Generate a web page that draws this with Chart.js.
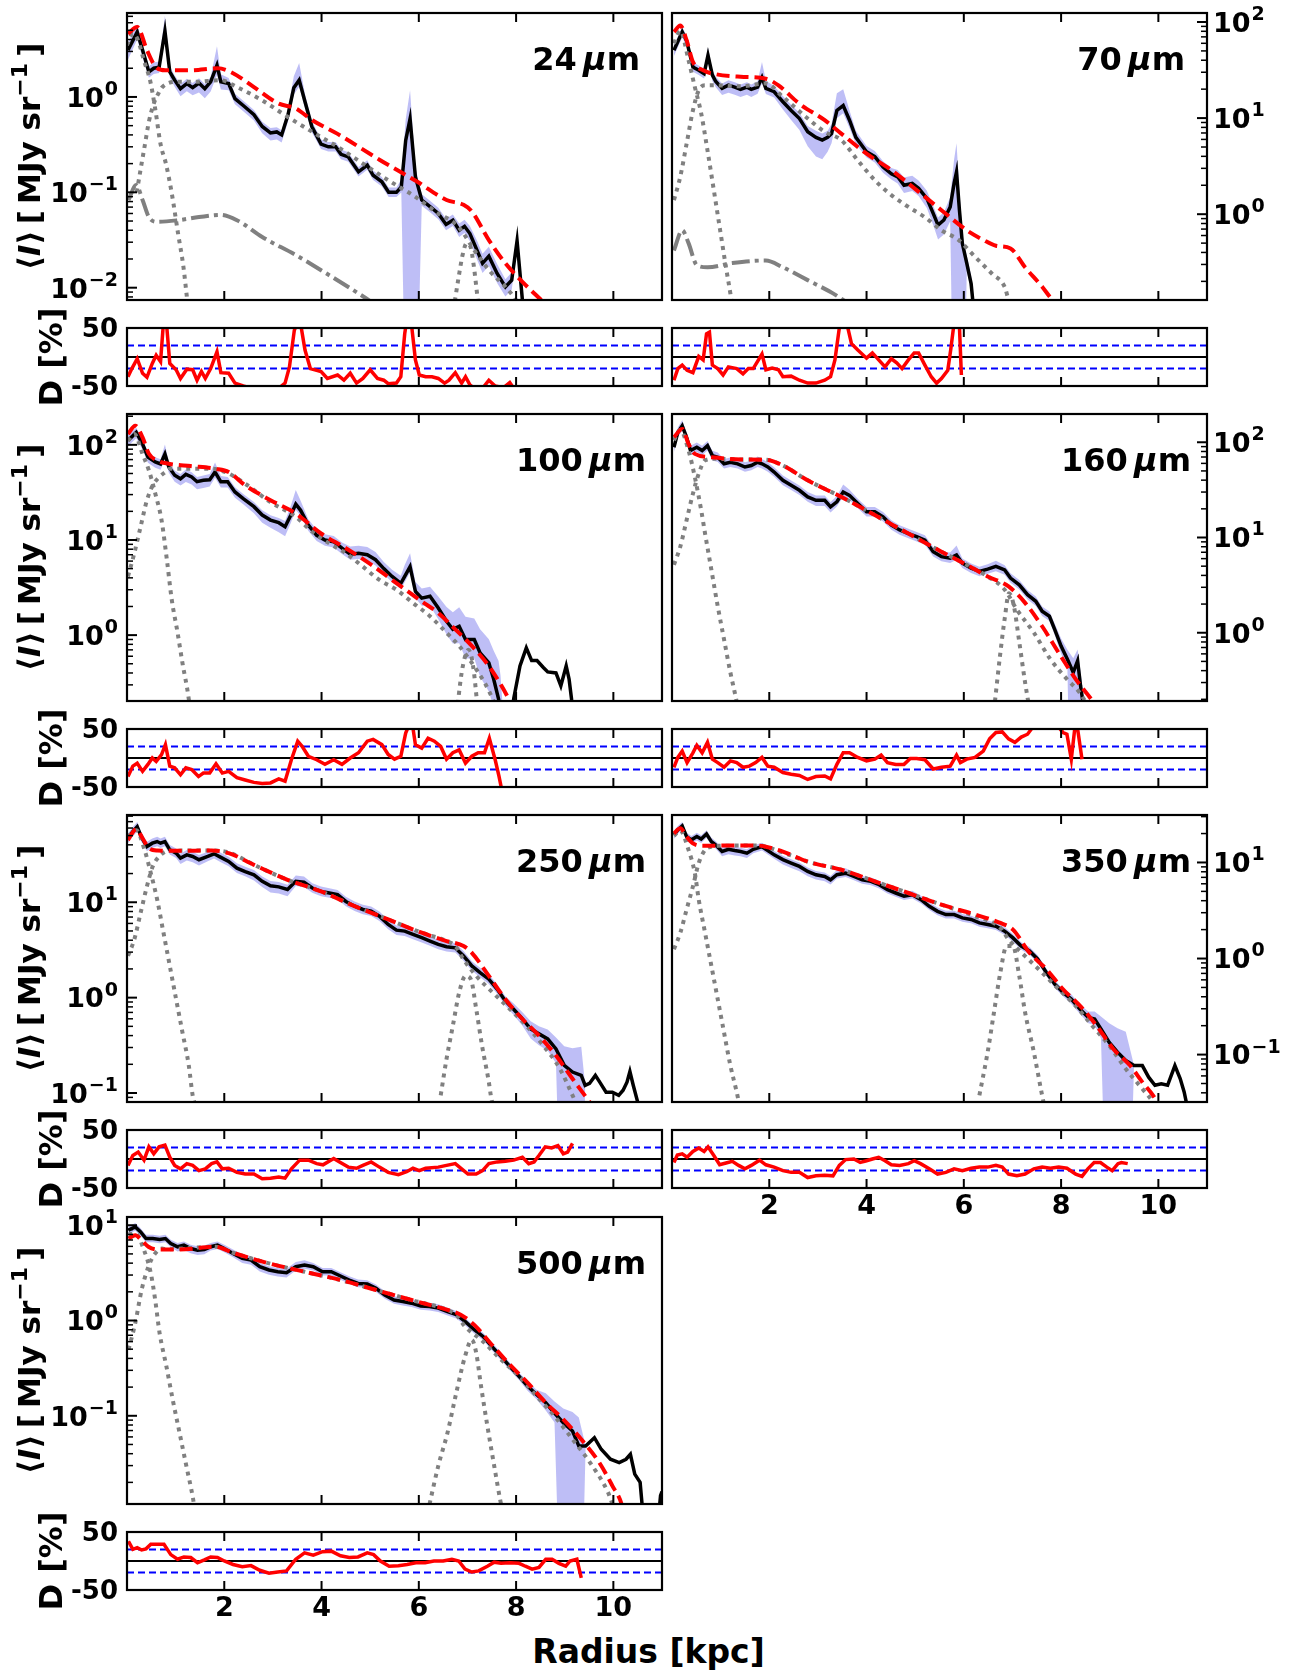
<!DOCTYPE html>
<html lang="en">
<head>
<meta charset="UTF-8">
<title>Radial profiles</title>
<script src="https://cdn.jsdelivr.net/npm/chart.js@4.4.1/dist/chart.umd.min.js"></script>
<style>
  body { margin: 0; background: #fff; }
  #fig { position: relative; width: 1297px; height: 1673px; overflow: hidden; }
  #fig canvas { position: absolute; }
  #xlabel {
    position: absolute; left: 0; top: 1635px; width: 1297px; text-align: center;
    font: bold 33px 'DejaVu Sans', sans-serif; line-height: 33px; color: #000;
  }
</style>
</head>
<body>
<div id="fig"><div id="xlabel">Radius [kpc]</div></div>
<script>
// ---- data ----
// observed profiles: [radius kpc, <I> MJy/sr, band below (dex), band above (dex)]
const obs24 = [[0.02,3.1,.10,.08],[0.21,4.8,.08,.08],[0.32,3.1,.08,.06],[0.45,1.83,.06,.06],[0.55,2.0,.06,.06],[0.66,2.05,.06,.06],[0.78,4.9,.08,.16],[0.88,1.83,.06,.06],[0.98,1.5,.07,.05],[1.10,1.22,.08,.05],[1.23,1.38,.08,.05],[1.35,1.25,.08,.05],[1.48,1.4,.1,.05],[1.60,1.22,.1,.05],[1.72,1.44,.1,.05],[1.85,2.15,.1,.2],[1.93,1.44,.08,.08],[2.09,1.38,.07,.06],[2.22,0.96,.06,.05],[2.42,0.79,.06,.05],[2.61,0.65,.06,.05],[2.78,0.49,.07,.05],[2.95,0.42,.08,.05],[3.08,0.43,.08,.05],[3.18,0.40,.08,.05],[3.31,0.65,.07,.06],[3.43,1.25,.07,.12],[3.54,1.5,.07,.18],[3.66,0.89,.07,.08],[3.80,0.49,.06,.06],[3.99,0.32,.05,.05],[4.14,0.30,.05,.05],[4.29,0.30,.05,.05],[4.40,0.25,.05,.05],[4.55,0.235,.05,.05],[4.76,0.164,.05,.05],[4.94,0.193,.05,.05],[5.06,0.151,.05,.05],[5.24,0.129,.05,.05],[5.38,0.10,.05,.05],[5.54,0.10,.05,.05],[5.64,0.114,.06,.08],[5.73,0.35,3,.22],[5.82,0.59,3,.3],[5.93,0.145,3,.1],[6.06,0.083,.06,.06],[6.23,0.071,.06,.06],[6.40,0.060,.06,.06],[6.56,0.046,.06,.06],[6.70,0.051,.06,.06],[6.83,0.040,.07,.07],[6.94,0.044,.07,.07],[7.05,0.037,.08,.08],[7.20,0.0245,.1,.1],[7.31,0.018,.1,.1],[7.44,0.0214,.1,.1],[7.61,0.0141,.1,.1],[7.78,0.0102,.1,.08],[7.91,0.012,.1,.08],[8.02,0.031,.1,.08],[8.13,0.0074,.1,.08],[8.16,0.001,0,0]];
const obs70 = [[0.04,50.7,.06,.05],[0.21,79,.06,.05],[0.30,64,.06,.05],[0.43,34,.05,.05],[0.55,31.5,.05,.05],[0.66,29,.05,.05],[0.74,45,.06,.08],[0.83,28,.06,.05],[0.90,24,.06,.05],[1.03,20.4,.07,.05],[1.16,22,.08,.05],[1.29,21,.08,.05],[1.41,19.9,.08,.05],[1.54,21,.08,.05],[1.63,19.9,.08,.05],[1.76,21,.07,.06],[1.85,26.5,.06,.16],[1.93,20.4,.06,.08],[2.10,18.8,.06,.06],[2.28,14.8,.08,.06],[2.45,12,.1,.06],[2.62,9.9,.12,.06],[2.79,7.2,.15,.06],[2.96,6.3,.2,.07],[3.09,5.9,.2,.07],[3.2,6.3,.15,.07],[3.28,6.9,.1,.1],[3.39,12,.08,.18],[3.52,13.5,.08,.17],[3.65,9.5,.08,.1],[3.78,6.3,.07,.07],[4.0,4.47,.06,.06],[4.17,3.97,.06,.06],[4.34,3.1,.06,.06],[4.51,2.63,.06,.06],[4.64,2.45,.07,.07],[4.77,2.0,.08,.08],[4.94,2.09,.08,.08],[5.07,1.86,.08,.08],[5.24,1.46,.1,.08],[5.37,1.02,.12,.08],[5.47,0.77,.15,.08],[5.59,0.87,.15,.08],[5.72,1.19,.15,.1],[5.80,2.09,3,.25],[5.85,2.75,3,.3],[5.91,1.1,3,.2],[5.97,0.495,3,.1],[6.06,0.31,.08,.08],[6.15,0.19,.08,.08],[6.19,0.118,.08,.08],[6.22,0.08,.08,.08]];
const obs100 = [[0.02,111,.06,.06],[0.19,135,.06,.05],[0.32,102,.06,.05],[0.43,74.5,.06,.05],[0.58,66,.06,.05],[0.69,63,.06,.05],[0.78,80,.06,.1],[0.86,58.5,.06,.05],[0.98,48,.07,.05],[1.10,44,.07,.05],[1.21,49,.08,.05],[1.33,46,.08,.05],[1.44,41,.08,.05],[1.57,42.4,.08,.05],[1.70,43,.07,.06],[1.81,51.8,.06,.1],[1.93,40.9,.06,.06],[2.07,40.9,.06,.05],[2.22,32,.06,.05],[2.39,27.2,.06,.05],[2.61,22.4,.07,.05],[2.78,18.3,.08,.05],[2.95,16.2,.08,.05],[3.12,15.2,.1,.05],[3.25,13.8,.1,.06],[3.37,18.3,.08,.1],[3.47,23.8,.06,.15],[3.57,20.5,.06,.1],[3.73,14.3,.06,.06],[3.90,11.2,.06,.06],[4.07,10,.06,.06],[4.25,9.6,.06,.06],[4.42,8.2,.06,.06],[4.59,7.1,.06,.08],[4.76,7.25,.06,.08],[4.94,7.0,.06,.08],[5.11,6.2,.06,.08],[5.28,5.0,.06,.07],[5.45,4.14,.06,.07],[5.63,3.5,.06,.08],[5.71,4.14,.06,.12],[5.82,5.25,.06,.14],[5.93,2.88,.07,.1],[6.06,2.45,.08,.1],[6.23,2.56,.1,.1],[6.40,1.93,.12,.12],[6.57,1.40,.14,.15],[6.70,1.15,.15,.18],[6.83,1.24,.18,.2],[6.96,0.90,.2,.24],[7.14,0.90,.2,.22],[7.26,0.65,.25,.25],[7.44,0.51,.3,.25],[7.54,0.344,.3,.3],[7.64,0.213,.3,.4],[7.68,0.15,.3,.4],[7.8,0.05,0,0],[7.92,0.15,0,0],[7.95,0.213,0,0],[8.08,0.474,0,0],[8.21,0.735,0,0],[8.32,0.54,0,0],[8.43,0.54,0,0],[8.56,0.457,0,0],[8.65,0.41,0,0],[8.82,0.40,0,0],[8.92,0.293,0,0],[9.03,0.474,0,0],[9.09,0.344,0,0],[9.14,0.213,0,0],[9.17,0.12,0,0]];
const obs160 = [[0.04,88.7,.05,.05],[0.12,127,.05,.05],[0.21,149,.05,.06],[0.30,113,.05,.05],[0.38,82,.05,.05],[0.51,88.7,.05,.05],[0.62,82,.05,.05],[0.73,92,.05,.05],[0.83,72.4,.05,.05],[0.94,69.7,.05,.05],[1.07,59.4,.05,.05],[1.20,61.7,.05,.05],[1.35,59.4,.05,.05],[1.50,55,.05,.05],[1.63,57,.05,.05],[1.76,61.7,.05,.06],[1.85,59.4,.05,.05],[1.97,55,.05,.05],[2.10,48.7,.05,.05],[2.28,39.8,.05,.05],[2.45,35.3,.05,.05],[2.62,31.3,.05,.05],[2.79,26.7,.05,.05],[2.96,24.6,.06,.05],[3.14,24.6,.06,.05],[3.26,21,.06,.05],[3.39,23.7,.05,.06],[3.52,30,.05,.08],[3.65,27.7,.05,.06],[3.82,22.7,.05,.05],[4.0,18.6,.05,.05],[4.17,18.6,.05,.05],[4.34,16.5,.05,.05],[4.51,13.5,.05,.05],[4.68,12,.05,.05],[4.86,11,.05,.05],[5.03,10.2,.05,.05],[5.20,9.4,.05,.05],[5.37,7.1,.05,.05],[5.54,6.3,.05,.05],[5.72,6.07,.05,.06],[5.85,6.56,.05,.1],[5.97,5.37,.05,.05],[6.15,4.76,.05,.05],[6.32,4.4,.05,.05],[6.49,4.66,.05,.05],[6.66,4.97,.05,.06],[6.84,4.57,.05,.05],[6.96,3.75,.05,.05],[7.14,3.19,.05,.05],[7.31,2.51,.05,.05],[7.48,2.14,.05,.05],[7.61,1.68,.05,.05],[7.76,1.49,.05,.05],[7.87,1.08,.06,.06],[8.0,0.725,.08,.08],[8.13,0.527,.1,.1],[8.25,0.383,3,.15],[8.34,0.506,3,.12],[8.40,0.277,3,.15],[8.45,0.186,.1,.1],[8.49,0.12,.1,.1]];
const obs250 = [[0.02,46.9,.05,.05],[0.12,55,.05,.05],[0.21,62,.05,.05],[0.29,48.9,.05,.05],[0.41,38.4,.05,.05],[0.52,41.6,.05,.05],[0.62,43.3,.05,.05],[0.69,41.6,.05,.05],[0.78,43.3,.05,.05],[0.88,35.5,.05,.05],[1.01,32.7,.05,.05],[1.10,29,.06,.05],[1.23,31.4,.06,.05],[1.35,30.2,.06,.05],[1.48,27.9,.06,.05],[1.66,30.2,.05,.05],[1.79,32.2,.05,.05],[1.92,29.7,.05,.05],[2.09,26.8,.05,.05],[2.26,22.8,.05,.05],[2.43,21,.05,.05],[2.61,19.4,.06,.05],[2.78,16.6,.06,.05],[2.95,14.9,.07,.05],[3.12,14.5,.07,.05],[3.30,13.6,.07,.05],[3.47,16.6,.05,.06],[3.64,16.2,.05,.06],[3.81,14.1,.05,.05],[3.99,13,.05,.05],[4.16,12.5,.05,.05],[4.33,12,.05,.05],[4.50,10.2,.05,.05],[4.68,9.1,.05,.05],[4.85,8.4,.05,.05],[5.02,8.05,.05,.05],[5.19,7.14,.05,.05],[5.37,5.85,.05,.05],[5.54,5.1,.05,.05],[5.71,4.98,.05,.05],[5.88,4.6,.05,.05],[6.06,4.25,.05,.05],[6.23,3.92,.05,.05],[6.40,3.61,.05,.05],[6.57,3.42,.05,.05],[6.75,3.33,.05,.05],[6.92,2.74,.05,.05],[7.09,2.15,.05,.05],[7.26,1.83,.05,.05],[7.44,1.56,.05,.05],[7.61,1.23,.05,.05],[7.78,0.923,.05,.05],[7.95,0.755,.06,.06],[8.13,0.597,.07,.07],[8.30,0.469,.1,.08],[8.47,0.417,.12,.08],[8.65,0.369,.12,.1],[8.82,0.29,.15,.12],[8.99,0.195,3,.2],[9.16,0.166,3,.25],[9.34,0.153,3,.3],[9.42,0.12,0,0],[9.51,0.126,0,0],[9.63,0.153,0,0],[9.72,0.13,0,0],[9.85,0.102,0,0],[9.98,0.102,0,0],[10.11,0.0946,0,0],[10.2,0.107,0,0],[10.28,0.13,0,0],[10.34,0.168,0,0],[10.41,0.12,0,0],[10.50,0.0805,0,0],[10.54,0.06,0,0]];
const obs350 = [[0.04,19.4,.04,.04],[0.12,21.8,.04,.04],[0.21,24,.04,.04],[0.30,18.6,.04,.04],[0.40,17.2,.04,.04],[0.51,18.6,.04,.04],[0.60,17.5,.04,.04],[0.71,19.8,.04,.04],[0.81,16.5,.04,.04],[0.90,15.2,.04,.04],[1.03,13,.05,.04],[1.16,13.7,.05,.04],[1.29,13.3,.05,.04],[1.41,13,.05,.04],[1.54,12.5,.05,.04],[1.67,13.7,.04,.04],[1.85,14.6,.04,.04],[1.97,13.3,.04,.04],[2.10,12,.04,.04],[2.28,10.7,.05,.04],[2.45,9.85,.05,.04],[2.62,9.1,.05,.04],[2.79,8.07,.05,.04],[2.96,7.45,.05,.04],[3.14,7.16,.05,.04],[3.26,6.6,.05,.04],[3.39,7.45,.04,.05],[3.57,7.74,.04,.05],[3.74,7.16,.04,.04],[3.91,6.6,.04,.04],[4.09,6.36,.04,.04],[4.26,5.87,.04,.04],[4.43,5.2,.04,.04],[4.60,4.81,.04,.04],[4.77,4.45,.04,.04],[4.94,4.62,.04,.04],[5.12,4.1,.04,.04],[5.29,3.5,.04,.04],[5.46,3.1,.04,.04],[5.63,2.87,.04,.04],[5.80,2.87,.04,.04],[5.97,2.65,.04,.04],[6.15,2.55,.04,.04],[6.32,2.35,.04,.04],[6.49,2.26,.04,.04],[6.66,2.17,.04,.04],[6.84,1.93,.04,.04],[7.01,1.64,.04,.04],[7.18,1.35,.04,.04],[7.35,1.2,.04,.04],[7.52,0.984,.04,.04],[7.70,0.713,.04,.04],[7.87,0.54,.04,.04],[8.04,0.443,.04,.04],[8.21,0.378,.05,.05],[8.39,0.297,.05,.05],[8.56,0.244,.06,.06],[8.69,0.234,.06,.08],[8.82,0.185,.1,.13],[8.99,0.134,3,.2],[9.16,0.106,3,.25],[9.33,0.0867,3,.3],[9.50,0.0769,0,0],[9.67,0.0769,0,0],[9.80,0.0582,0,0],[9.93,0.0479,0,0],[10.06,0.0497,0,0],[10.19,0.0479,0,0],[10.34,0.0769,0,0],[10.45,0.056,0,0],[10.53,0.0408,0,0],[10.58,0.031,0,0],[10.6,0.025,0,0]];
const obs500 = [[0.03,8.87,.04,.04],[0.17,9.6,.04,.04],[0.28,8.5,.04,.04],[0.39,7.25,.04,.04],[0.53,7.25,.04,.04],[0.67,7.08,.04,.04],[0.79,7.25,.04,.04],[0.90,6.43,.04,.04],[1.04,5.94,.05,.04],[1.17,6.17,.05,.04],[1.31,5.7,.05,.04],[1.45,5.48,.05,.04],[1.59,5.57,.05,.04],[1.72,5.94,.04,.04],[1.86,6.17,.04,.04],[2.0,5.7,.04,.04],[2.18,5.06,.04,.04],[2.37,4.49,.05,.04],[2.55,4.31,.05,.04],[2.73,3.67,.05,.04],[2.92,3.39,.05,.04],[3.10,3.25,.05,.04],[3.28,3.18,.05,.04],[3.47,3.67,.04,.05],[3.65,3.82,.04,.05],[3.83,3.67,.04,.04],[4.02,3.25,.04,.04],[4.20,3.25,.04,.04],[4.39,2.93,.04,.04],[4.57,2.66,.04,.04],[4.75,2.45,.04,.04],[4.94,2.42,.04,.04],[5.12,2.18,.04,.04],[5.30,1.85,.04,.04],[5.49,1.64,.04,.04],[5.67,1.58,.04,.04],[5.85,1.52,.04,.04],[6.04,1.42,.04,.04],[6.22,1.40,.04,.04],[6.40,1.35,.04,.04],[6.59,1.24,.04,.04],[6.77,1.15,.04,.04],[6.95,0.977,.04,.04],[7.14,0.80,.04,.04],[7.32,0.68,.04,.04],[7.50,0.535,.04,.04],[7.69,0.42,.04,.04],[7.87,0.33,.04,.04],[8.06,0.26,.04,.04],[8.24,0.204,.05,.05],[8.42,0.167,.05,.05],[8.61,0.137,.08,.1],[8.79,0.107,.1,.12],[8.97,0.0845,3,.15],[9.16,0.0692,3,.2],[9.29,0.0482,3,.3],[9.43,0.0482,0,0],[9.61,0.0589,0,0],[9.75,0.0445,0,0],[9.94,0.035,0,0],[10.12,0.0323,0,0],[10.26,0.035,0,0],[10.35,0.0394,0,0],[10.44,0.0244,0,0],[10.55,0.02,0,0],[10.59,0.0118,0,0],[10.62,0.006,0,0],[10.9,0.006,0,0],[10.97,0.0145,0,0],[11.0,0.016,0,0]];

// total model (red dashed)
const model24 = [[0.02,4.6],[0.21,5.4],[0.41,3.1],[0.58,2.1],[0.79,1.9],[1.31,1.9],[1.87,2.0],[2.13,1.83],[2.61,1.27],[3.12,0.85],[3.47,0.76],[3.81,0.57],[4.33,0.41],[5.19,0.22],[5.97,0.129],[6.57,0.083],[6.92,0.074],[7.09,0.063],[7.44,0.0316],[7.78,0.018],[8.13,0.0115],[8.52,0.0074],[8.65,0.0064]];
const model70 = [[0.04,78.7],[0.17,92],[0.30,64.6],[0.43,38.4],[0.64,31.4],[0.90,28.6],[1.41,26.9],[1.93,25.7],[2.19,21.9],[2.62,14.1],[3.14,9.5],[3.48,6.9],[4.0,4.26],[4.51,2.88],[5.03,1.78],[5.54,1.10],[6.06,0.68],[6.40,0.54],[6.66,0.47],[6.96,0.44],[7.26,0.28],[7.61,0.176],[7.82,0.128],[7.95,0.11]];
const model100 = [[0.02,130],[0.17,159],[0.32,120],[0.45,80.5],[0.62,68.5],[0.88,63],[1.31,59.8],[1.83,56],[2.09,51.8],[2.43,37.6],[2.95,26.2],[3.47,19],[3.99,11.7],[4.50,8.2],[5.02,5.5],[5.54,3.52],[6.06,2.26],[6.40,1.71],[6.75,1.15],[7.09,0.77],[7.44,0.474],[7.70,0.293],[7.87,0.204],[7.95,0.17]];
const model160 = [[0.04,113],[0.21,138],[0.34,96],[0.47,75.5],[0.81,69.7],[1.41,66],[1.93,65.5],[2.28,57],[2.79,39.8],[3.48,26.7],[4.17,17.2],[4.86,11],[5.54,7.1],[6.06,5.16],[6.49,3.9],[6.92,3.07],[7.26,2.06],[7.61,1.17],[7.95,0.616],[8.30,0.326],[8.64,0.194],[8.73,0.165]];
const model250 = [[0.02,45],[0.19,58.2],[0.32,46.9],[0.45,36.9],[0.62,34.9],[1.05,34.6],[1.74,34.9],[2.09,32.7],[2.61,24.7],[3.30,17.2],[3.99,13],[4.68,9.1],[5.37,6.6],[6.06,4.79],[6.57,3.92],[6.92,3.47],[7.09,2.95],[7.44,1.69],[7.78,0.96],[8.13,0.597],[8.47,0.40],[8.82,0.247],[9.16,0.141],[9.51,0.0805],[9.59,0.07]];
const model350 = [[0.04,20.1],[0.17,22.7],[0.30,18.6],[0.43,15.8],[0.64,14.9],[1.07,15],[1.76,15],[1.93,14.6],[2.28,13],[2.79,10.2],[3.48,8.4],[4.17,6.36],[4.86,4.81],[5.54,3.64],[6.23,2.87],[6.75,2.35],[7.01,2.0],[7.35,1.15],[7.70,0.773],[8.04,0.479],[8.39,0.322],[8.73,0.20],[9.07,0.115],[9.42,0.0769],[9.67,0.0517],[9.89,0.0376],[9.97,0.032],[10.02,0.028]];
const model500 = [[0.03,7.25],[0.17,7.85],[0.30,6.97],[0.44,5.94],[0.62,5.57],[1.08,5.57],[1.82,5.94],[2.18,5.14],[2.92,3.98],[3.65,3.25],[4.39,2.66],[5.12,2.09],[5.85,1.64],[6.59,1.29],[6.86,1.15],[7.14,0.90],[7.50,0.557],[7.87,0.344],[8.24,0.221],[8.61,0.137],[8.97,0.0916],[9.34,0.0566],[9.71,0.0323],[9.98,0.0184],[10.17,0.0118],[10.2,0.01]];

// model components (grey dotted): bulge, disk, outer ring; grey dash-dot extra component
const bulge24 = [[0.0,3.5],[0.12,4.6],[0.22,4.0],[0.35,2.4],[0.48,1.45],[0.58,0.75],[0.69,0.32],[0.8,0.2],[0.92,0.098],[1.05,0.037],[1.16,0.0166],[1.23,0.0081],[1.28,0.005]];
const disk24 = [[0.2,0.1],[0.3,0.2],[0.37,0.32],[0.45,0.55],[0.55,0.85],[0.65,1.1],[0.72,1.26],[0.85,1.4],[1.0,1.44],[1.4,1.44],[1.92,1.5],[2.26,1.27],[2.78,0.92],[3.30,0.62],[3.81,0.43],[4.33,0.30],[4.85,0.20],[5.37,0.134],[5.88,0.093],[6.40,0.060],[6.75,0.047],[6.92,0.037],[7.09,0.027],[7.44,0.0153],[7.78,0.0102],[8.0,0.0074],[8.1,0.006]];
const outer24 = [[6.74,0.0072],[6.82,0.013],[6.9,0.022],[6.98,0.029],[7.06,0.027],[7.13,0.017],[7.2,0.0085],[7.24,0.006]];
const dashdot24 = [[0.03,0.083],[0.19,0.119],[0.32,0.083],[0.45,0.055],[0.62,0.049],[1.05,0.051],[1.48,0.055],[1.92,0.058],[2.26,0.051],[2.78,0.034],[3.47,0.022],[4.16,0.0135],[4.76,0.0087],[5.02,0.0071],[5.2,0.006]];
const bulge70 = [[0.04,60],[0.17,81],[0.34,40],[0.47,21],[0.60,11.2],[0.73,4.6],[0.86,1.78],[0.99,0.68],[1.11,0.28],[1.20,0.15],[1.24,0.11]];
const disk70 = [[0.04,1.40],[0.17,2.45],[0.30,5.4],[0.43,12],[0.55,19.5],[0.68,21.9],[0.90,21.9],[1.41,21.4],[1.93,22.9],[2.28,16.6],[2.79,9.9],[3.14,7.2],[3.48,5.9],[3.82,3.63],[4.17,2.26],[4.51,1.58],[4.86,1.19],[5.20,0.93],[5.54,0.68],[5.89,0.54],[6.23,0.36],[6.58,0.24],[6.84,0.175],[6.92,0.128],[6.97,0.11]];
const dashdot70 = [[0.04,0.42],[0.21,0.68],[0.34,0.50],[0.51,0.295],[0.73,0.28],[1.24,0.31],[1.93,0.33],[2.28,0.28],[2.79,0.206],[3.31,0.15],[3.57,0.123],[3.7,0.11]];
const bulge100 = [[0.02,110],[0.15,130],[0.32,80],[0.45,54],[0.58,31],[0.71,16.2],[0.82,6.2],[0.92,2.36],[1.04,1.06],[1.14,0.51],[1.27,0.213],[1.31,0.14]];
const disk100 = [[0.02,4.14],[0.15,7.25],[0.28,13.8],[0.41,26.2],[0.53,37.6],[0.66,45.7],[0.79,51.8],[0.88,56],[1.31,56],[1.74,56],[2.09,50],[2.43,39],[2.95,25],[3.47,17.5],[3.81,12.2],[4.16,9.2],[4.50,7.25],[4.85,5.25],[5.19,3.8],[5.54,3.0],[5.88,2.18],[6.23,1.58],[6.57,1.06],[6.83,0.77],[7.09,0.51],[7.35,0.318],[7.52,0.213],[7.6,0.17]];
const outer100 = [[6.8,0.19],[6.88,0.4],[6.96,0.62],[7.02,0.7],[7.08,0.6],[7.14,0.38],[7.2,0.19]];
const bulge160 = [[0.04,105],[0.17,135],[0.34,82],[0.47,43],[0.60,19.4],[0.68,11],[0.81,4.57],[0.94,1.9],[1.07,0.85],[1.20,0.383],[1.29,0.236],[1.35,0.17]];
const disk160 = [[0.04,5.16],[0.17,8.0],[0.30,15.2],[0.43,28.8],[0.55,46.8],[0.68,64.5],[0.90,67],[1.41,66],[1.93,65.5],[2.28,57],[2.79,39.8],[3.48,26.7],[4.17,17.2],[4.86,11],[5.54,7.1],[6.06,5.16],[6.49,3.9],[6.84,2.83],[7.09,1.75],[7.44,1.0],[7.78,0.527],[8.12,0.326],[8.38,0.236],[8.47,0.2],[8.55,0.17]];
const outer160 = [[6.64,0.19],[6.74,0.55],[6.84,1.4],[6.93,2.6],[7.03,1.9],[7.14,0.8],[7.26,0.3],[7.34,0.17]];
const bulge250 = [[0.02,49],[0.19,57],[0.36,35.5],[0.49,20.2],[0.62,10.7],[0.75,4.79],[0.88,2.15],[1.01,0.96],[1.14,0.433],[1.27,0.195],[1.35,0.0946],[1.40,0.075]];
const disk250 = [[0.02,2.74],[0.15,4.07],[0.28,7.74],[0.41,14.7],[0.53,23.8],[0.66,30.2],[0.79,34],[0.88,34.6],[1.74,34.9],[2.09,33.3],[2.61,24.7],[3.30,17.2],[3.99,13],[4.68,9.1],[5.37,6.6],[6.06,4.79],[6.57,3.92],[6.75,3.47],[6.92,2.51],[7.18,1.69],[7.52,1.13],[7.87,0.76],[8.21,0.508],[8.56,0.314],[8.90,0.18],[9.16,0.0946],[9.25,0.075]];
const outer250 = [[6.45,0.0946],[6.57,0.228],[6.70,0.508],[6.83,1.13],[6.96,1.69],[7.07,1.56],[7.18,0.76],[7.30,0.314],[7.44,0.13],[7.48,0.0946],[7.52,0.075]];
const bulge350 = [[0.04,19],[0.17,21.5],[0.34,13.5],[0.47,7.74],[0.55,4.1],[0.68,1.85],[0.81,0.836],[0.94,0.378],[1.07,0.17],[1.20,0.0769],[1.33,0.0408],[1.38,0.031]];
const disk350 = [[0.04,1.25],[0.17,1.85],[0.30,3.24],[0.43,5.62],[0.55,9.85],[0.68,13.5],[0.81,14.6],[0.98,14.9],[1.76,15],[2.28,12.7],[2.79,10.2],[3.48,8.4],[4.17,6.36],[4.86,4.81],[5.54,3.64],[6.23,2.75],[6.75,2.09],[6.92,1.58],[7.26,1.06],[7.61,0.713],[7.95,0.479],[8.30,0.322],[8.64,0.20],[8.99,0.124],[9.33,0.071],[9.67,0.044],[9.89,0.032],[9.95,0.028]];
const outer350 = [[6.32,0.0376],[6.49,0.106],[6.62,0.275],[6.75,0.713],[6.88,1.35],[7.01,1.35],[7.14,0.659],[7.26,0.275],[7.44,0.106],[7.61,0.0376],[7.65,0.03]];
const bulge500 = [[0.03,8.0],[0.17,8.2],[0.35,5.48],[0.49,3.13],[0.58,1.64],[0.67,0.738],[0.81,0.33],[0.94,0.148],[1.08,0.0664],[1.22,0.0298],[1.36,0.0133],[1.39,0.0105]];
const disk500 = [[0.03,0.493],[0.17,0.94],[0.30,2.09],[0.44,3.67],[0.58,5.06],[0.72,5.7],[0.81,5.6],[1.82,5.94],[2.18,5.14],[2.92,3.98],[3.65,3.25],[4.39,2.66],[5.12,2.09],[5.85,1.64],[6.59,1.29],[6.77,1.15],[6.95,0.865],[7.32,0.603],[7.69,0.388],[8.06,0.26],[8.42,0.161],[8.79,0.0993],[9.16,0.0566],[9.52,0.0323],[9.89,0.0157],[9.98,0.0118],[10.02,0.01]];
const outer500 = [[6.22,0.0118],[6.40,0.0298],[6.59,0.0664],[6.77,0.174],[6.95,0.42],[7.09,0.628],[7.18,0.456],[7.28,0.204],[7.41,0.078],[7.55,0.0298],[7.69,0.0118],[7.72,0.01]];

// residuals D [%]
const res24 = [[0.02,-34],[0.10,-20],[0.21,-3],[0.32,-28],[0.41,-35],[0.52,-11],[0.60,3],[0.69,-8],[0.75,60],[0.81,60],[0.88,-11],[1.01,-22],[1.10,-37],[1.23,-21],[1.35,-22],[1.44,-40],[1.53,-25],[1.61,-37],[1.72,-20],[1.85,9],[1.93,-27],[2.09,-28],[2.22,-45],[2.39,-50],[2.52,-53],[3.12,-54],[3.25,-45],[3.34,-17],[3.44,46],[3.49,57],[3.57,57],[3.66,12],[3.77,-20],[3.99,-25],[4.12,-37],[4.33,-31],[4.46,-40],[4.59,-28],[4.72,-45],[4.85,-37],[5.0,-22],[5.15,-37],[5.28,-40],[5.37,-46],[5.54,-45],[5.63,-34],[5.71,40],[5.75,63],[5.84,63],[5.93,-5],[6.01,-31],[6.14,-34],[6.27,-34],[6.40,-37],[6.53,-45],[6.62,-40],[6.75,-27],[6.88,-45],[6.96,-34],[7.05,-48],[7.14,-54],[7.31,-54],[7.44,-40],[7.57,-50],[7.74,-53],[7.87,-44],[7.95,-54]];
const res70 = [[0.04,-40],[0.12,-20],[0.21,-14],[0.31,-23],[0.43,-27],[0.55,1],[0.64,-5],[0.71,40],[0.77,43],[0.83,-14],[0.94,-20],[1.05,-31],[1.16,-17],[1.33,-20],[1.46,-29],[1.57,-20],[1.67,-20],[1.85,5],[1.93,-22],[2.06,-19],[2.19,-22],[2.28,-34],[2.45,-33],[2.62,-40],[2.79,-45],[2.96,-45],[3.14,-40],[3.26,-34],[3.35,-5],[3.44,50],[3.50,63],[3.58,63],[3.69,23],[3.82,12],[4.0,-2],[4.12,7],[4.25,-5],[4.38,-17],[4.51,-3],[4.62,-10],[4.73,-20],[4.86,-5],[4.98,7],[5.07,7],[5.20,-14],[5.33,-34],[5.44,-45],[5.54,-37],[5.67,-23],[5.73,12],[5.79,52],[5.85,63],[5.91,52],[5.95,-31]];
const res100 = [[0.02,-32],[0.12,-14],[0.21,-9],[0.32,-23],[0.43,-11],[0.52,0],[0.60,-6],[0.71,6],[0.79,23],[0.88,-14],[0.98,-17],[1.10,-29],[1.21,-17],[1.33,-20],[1.47,-32],[1.57,-26],[1.70,-26],[1.83,-10],[1.96,-26],[2.09,-23],[2.26,-34],[2.43,-38],[2.61,-42],[2.78,-44],[2.95,-43],[3.12,-36],[3.25,-40],[3.38,-3],[3.51,29],[3.60,20],[3.73,3],[3.90,-3],[4.07,-11],[4.25,-3],[4.42,-11],[4.59,0],[4.76,9],[4.94,29],[5.06,32],[5.24,23],[5.37,6],[5.50,-2],[5.63,3],[5.73,43],[5.80,57],[5.87,57],[5.93,23],[6.06,17],[6.19,34],[6.32,29],[6.45,20],[6.57,-2],[6.70,9],[6.83,14],[6.96,-9],[7.09,3],[7.22,9],[7.35,9],[7.45,34],[7.57,-3],[7.65,-32],[7.71,-57]];
const res160 = [[0.04,-16],[0.12,1],[0.21,12],[0.31,-8],[0.43,9],[0.51,22],[0.62,9],[0.73,27],[0.83,-2],[0.94,-8],[1.07,-16],[1.20,-5],[1.33,-8],[1.46,-16],[1.59,-14],[1.72,-8],[1.85,1],[1.97,-14],[2.10,-16],[2.28,-25],[2.45,-28],[2.62,-30],[2.79,-37],[2.96,-32],[3.14,-31],[3.26,-36],[3.39,-11],[3.52,9],[3.65,9],[3.82,1],[4.0,-5],[4.17,-2],[4.30,5],[4.43,-8],[4.60,-11],[4.77,-11],[4.90,-1],[5.03,-1],[5.20,-3],[5.37,-19],[5.54,-16],[5.72,-14],[5.85,5],[5.93,-8],[6.06,-2],[6.23,1],[6.40,12],[6.53,33],[6.66,44],[6.79,45],[6.92,33],[7.05,27],[7.18,36],[7.31,41],[7.39,50],[7.48,56],[7.61,67],[7.82,62],[7.95,53],[8.04,44],[8.12,41],[8.21,-2],[8.28,50],[8.34,50],[8.43,-2]];
const res250 = [[0.02,-11],[0.12,6],[0.23,12],[0.35,-2],[0.45,21],[0.55,9],[0.66,21],[0.78,24],[0.88,3],[0.98,-11],[1.10,-17],[1.23,-8],[1.35,-11],[1.48,-20],[1.61,-17],[1.74,-8],[1.85,-5],[1.96,-17],[2.09,-16],[2.26,-23],[2.43,-26],[2.61,-26],[2.78,-34],[2.95,-33],[3.12,-31],[3.25,-33],[3.38,-17],[3.55,-2],[3.73,-2],[3.90,-8],[4.03,-10],[4.25,1],[4.37,-5],[4.55,-14],[4.72,-16],[4.85,-11],[5.02,-5],[5.19,-14],[5.37,-23],[5.58,-27],[5.75,-22],[5.88,-16],[6.01,-20],[6.14,-16],[6.40,-14],[6.57,-11],[6.75,-8],[6.88,-17],[7.01,-26],[7.18,-26],[7.31,-20],[7.44,-8],[7.61,-5],[7.78,-4],[7.95,-2],[8.13,3],[8.26,-8],[8.37,-5],[8.47,6],[8.60,21],[8.73,19],[8.86,23],[8.97,9],[9.06,12],[9.16,27]];
const res350 = [[0.04,-6],[0.11,7],[0.21,9],[0.31,3],[0.43,13],[0.55,19],[0.66,13],[0.74,21],[0.86,6],[0.98,-10],[1.11,-7],[1.24,-4],[1.37,-11],[1.50,-17],[1.63,-11],[1.80,-2],[1.93,-10],[2.10,-14],[2.28,-20],[2.45,-23],[2.62,-23],[2.79,-32],[2.96,-29],[3.14,-28],[3.31,-29],[3.44,-11],[3.57,-1],[3.74,0],[3.87,-6],[4.0,-3],[4.12,0],[4.25,3],[4.38,-3],[4.51,-10],[4.68,-11],[4.86,-8],[4.98,-3],[5.11,-8],[5.29,-17],[5.46,-26],[5.63,-23],[5.80,-17],[5.97,-20],[6.15,-16],[6.32,-14],[6.49,-14],[6.66,-11],[6.79,-14],[6.92,-26],[7.09,-29],[7.26,-26],[7.44,-17],[7.61,-14],[7.78,-16],[7.95,-14],[8.12,-16],[8.30,-26],[8.43,-30],[8.55,-17],[8.68,-6],[8.81,-6],[8.94,-14],[9.05,-20],[9.17,-8],[9.24,-6],[9.37,-8]];
const res500 = [[0.03,34],[0.12,20],[0.21,23],[0.30,19],[0.39,21],[0.49,29],[0.62,29],[0.76,29],[0.90,11],[1.04,3],[1.17,7],[1.31,6],[1.45,-3],[1.59,2],[1.72,7],[1.86,6],[2.0,0],[2.18,-6],[2.37,-10],[2.55,-8],[2.73,-16],[2.92,-21],[3.10,-19],[3.28,-17],[3.47,3],[3.65,14],[3.83,10],[4.02,16],[4.20,17],[4.39,9],[4.57,6],[4.75,7],[4.94,14],[5.07,11],[5.21,0],[5.39,-9],[5.58,-8],[5.76,-6],[5.94,-3],[6.13,-3],[6.31,0],[6.50,0],[6.68,3],[6.82,0],[6.95,-14],[7.09,-19],[7.23,-17],[7.41,-9],[7.55,-2],[7.69,-4],[7.87,-3],[8.06,-4],[8.19,-9],[8.33,-14],[8.47,-11],[8.61,3],[8.74,3],[8.88,-4],[9.02,-9],[9.11,0],[9.25,3],[9.34,-29]];

// axis limits (MJy/sr) and ticks
const wavelengths = ['24', '70', '100', '160', '250', '350', '500'];
const yMin = [0.00743, 0.128, 0.203, 0.192, 0.0805, 0.0321, 0.01186];
const yMax = [7.59, 124, 211, 198, 82.2, 31.2, 12.2];
const xRange = [0, 11];
const xTicks = [2, 4, 6, 8, 10];
const residRange = [-50, 50];
const residTickLabels = [50, -50];
const residBand = [-20, 20];

const obsAll = [obs24, obs70, obs100, obs160, obs250, obs350, obs500];
const modelAll = [model24, model70, model100, model160, model250, model350, model500];
const bulgeAll = [bulge24, bulge70, bulge100, bulge160, bulge250, bulge350, bulge500];
const diskAll = [disk24, disk70, disk100, disk160, disk250, disk350, disk500];
const outerAll = [outer24, null, outer100, outer160, outer250, outer350, outer500];
const dashdotAll = [dashdot24, dashdot70, null, null, null, null, null];
const resAll = [res24, res70, res100, res160, res250, res350, res500];

// ---- layout ----
const FONT = "'DejaVu Sans', 'Liberation Sans', sans-serif";
const fig = document.getElementById('fig');
const cols = [{x: 127, w: 535}, {x: 672, w: 535}];
const rowTop = [13, 414, 815, 1217];
const MAIN_H = 287, RES_OFF = 315, RES_H = 58;
const BAND = 'rgba(110,110,235,0.45)';
const GREY = '#808080';

function drawPow(ctx, exp, x, y, align, size) {
  const sup = (exp < 0 ? '\u2212' : '') + Math.abs(exp);
  const fb = `bold ${size}px ${FONT}`, fs = `bold ${Math.round(size * 0.7)}px ${FONT}`;
  ctx.font = fb; const wb = ctx.measureText('10').width;
  ctx.font = fs; const ws = ctx.measureText(sup).width;
  const x0 = align === 'right' ? x - wb - ws - 1 : x;
  const yb = y + size * 0.729 / 2;
  ctx.textAlign = 'left'; ctx.textBaseline = 'alphabetic';
  ctx.font = fb; ctx.fillText('10', x0, yb);
  ctx.font = fs; ctx.fillText(sup, x0 + wb + 1, yb - size * 0.44);
}

function drawParts(ctx, parts, x, y, align) {
  let w = 0;
  parts.forEach(p => { ctx.font = p[1]; w += ctx.measureText(p[0]).width; });
  let cx = align === 'right' ? x - w : align === 'center' ? x - w / 2 : x;
  ctx.textAlign = 'left'; ctx.textBaseline = 'alphabetic';
  parts.forEach(p => { ctx.font = p[1]; ctx.fillText(p[0], cx, y + (p[2] || 0)); cx += ctx.measureText(p[0]).width; });
}

function drawRotated(ctx, parts, cx, cy) {
  ctx.save();
  ctx.translate(cx, cy);
  ctx.rotate(-Math.PI / 2);
  drawParts(ctx, parts, 0, 0, 'center');
  ctx.restore();
}

function seg(ctx, x1, y1, x2, y2) {
  ctx.beginPath(); ctx.moveTo(x1, y1); ctx.lineTo(x2, y2); ctx.stroke();
}

const framePlugin = {
  id: 'frame',
  afterDatasetsDraw(chart, args, o) {
    const {ctx, chartArea: a} = chart;
    const x = chart.scales.x, y = chart.scales.y;
    ctx.save();
    ctx.strokeStyle = '#000'; ctx.fillStyle = '#000'; ctx.lineCap = 'butt';
    ctx.lineWidth = 2;
    xTicks.forEach(v => {
      const px = x.getPixelForValue(v);
      seg(ctx, px, a.bottom, px, a.bottom - 9);
      seg(ctx, px, a.top, px, a.top + 9);
    });
    if (o.log) {
      const lo = Math.floor(Math.log10(y.min)), hi = Math.ceil(Math.log10(y.max));
      for (let d = lo; d <= hi; d++) {
        for (let k = 1; k <= 9; k++) {
          const v = k * Math.pow(10, d);
          if (v < y.min || v > y.max) continue;
          const py = y.getPixelForValue(v);
          const len = k === 1 ? 10 : 6;
          ctx.lineWidth = k === 1 ? 2 : 1.5;
          if (o.side === 'left') seg(ctx, a.left, py, a.left + len, py);
          else seg(ctx, a.right, py, a.right - len, py);
          if (k === 1) {
            ctx.fillStyle = '#000';
            if (o.side === 'left') drawPow(ctx, d, a.left - 9, py, 'right', 27);
            else drawPow(ctx, d, a.right + 6, py, 'left', 27);
          }
        }
      }
      // wavelength label
      const big = `bold 32px ${FONT}`;
      drawParts(ctx, [[o.name, big], ['\u2009', big], ['\u03bc', `italic bold 32px ${FONT}`], ['m', big]],
        a.right - (o.name.length > 2 ? 16 : 22), a.top + 57, 'right');
      if (o.side === 'left') {
        const f = `bold 31px ${FONT}`;
        drawRotated(ctx, [['\u27e8', f], ['I', `italic bold 31px ${FONT}`], ['\u27e9', f],
          ['\u2009[\u2009MJy sr', f], ['\u22121', `bold 22px ${FONT}`, -13], ['\u2009]', f]],
          40, (a.top + a.bottom) / 2);
      }
    } else {
      if (o.side === 'left') {
        residTickLabels.forEach(v => {
          const py = y.getPixelForValue(v);
          ctx.font = `bold 26px ${FONT}`; ctx.textAlign = 'right'; ctx.textBaseline = 'alphabetic';
          ctx.fillText(String(v), a.left - 9, py + 26 * 0.729 / 2);
        });
        const f = `bold 32px ${FONT}`;
        drawRotated(ctx, [['D [%]', f]], 62, (a.top + a.bottom) / 2);
      }
      if (o.xLabels) {
        xTicks.forEach(v => {
          const px = x.getPixelForValue(v);
          ctx.font = `bold 27px ${FONT}`; ctx.textAlign = 'center'; ctx.textBaseline = 'alphabetic';
          ctx.fillText(String(v), px, a.bottom + 26);
        });
      }
    }
    ctx.lineWidth = 2.2;
    ctx.strokeRect(a.left, a.top, a.right - a.left, a.bottom - a.top);
    ctx.restore();
  }
};

const pts = arr => arr.map(p => ({x: p[0], y: p[1]}));
function lineDs(arr, color, width, dash, order, smooth) {
  return {
    data: pts(arr), borderColor: color, borderWidth: width, borderDash: dash || [],
    pointRadius: 0, fill: false, order: order, clip: 0, borderCapStyle: 'butt',
    cubicInterpolationMode: smooth ? 'monotone' : 'default', tension: 0
  };
}

function makeCanvas(left, top, width, height) {
  const c = document.createElement('canvas');
  c.width = width; c.height = height;
  c.style.left = left + 'px'; c.style.top = top + 'px';
  c.style.width = width + 'px'; c.style.height = height + 'px';
  fig.appendChild(c);
  return c;
}

function baseOptions(pad, yScale, frameOpts) {
  return {
    responsive: false, animation: false, devicePixelRatio: 1, events: [],
    layout: {padding: pad},
    scales: {
      x: {type: 'linear', min: xRange[0], max: xRange[1], display: false},
      y: Object.assign({display: false}, yScale)
    },
    plugins: {legend: {display: false}, tooltip: {enabled: false}, frame: frameOpts},
    elements: {point: {radius: 0}}
  };
}

const placement = [[0, 0], [1, 0], [0, 1], [1, 1], [0, 2], [1, 2], [0, 3]];

wavelengths.forEach((name, i) => {
  const [ci, ri] = placement[i];
  const col = cols[ci], T = rowTop[ri];
  const padL = ci === 0 ? col.x : 5;
  const padR = ci === 0 ? 4 : 90;
  const cLeft = col.x - padL, cWidth = padL + col.w + padR;
  const side = ci === 0 ? 'left' : 'right';

  // main profile panel
  const obs = obsAll[i];
  const ds = [
    {data: obs.map(p => ({x: p[0], y: p[1] * Math.pow(10, p[3])})), borderWidth: 0, pointRadius: 0,
      fill: '+1', backgroundColor: BAND, order: 10, clip: 0},
    {data: obs.map(p => ({x: p[0], y: p[1] / Math.pow(10, p[2])})), borderWidth: 0, pointRadius: 0,
      fill: false, order: 10, clip: 0},
    lineDs(obs, '#000', 3.5, [], 5, false),
    lineDs(bulgeAll[i], GREY, 4, [4, 5], 3, true),
    lineDs(diskAll[i], GREY, 4, [4, 5], 3, true),
    lineDs(modelAll[i], '#ff0000', 4, [13, 6], 1, true)
  ];
  if (outerAll[i]) ds.push(lineDs(outerAll[i], GREY, 4, [4, 5], 3, true));
  if (dashdotAll[i]) ds.push(lineDs(dashdotAll[i], GREY, 4, [18, 5, 4, 5], 3, true));
  const mc = makeCanvas(cLeft, T - 13, cWidth, 13 + MAIN_H + 13);
  new Chart(mc, {
    type: 'line',
    data: {datasets: ds},
    options: baseOptions({left: padL, right: padR, top: 13, bottom: 13},
      {type: 'logarithmic', min: yMin[i], max: yMax[i]},
      {log: true, side: side, name: name}),
    plugins: [framePlugin]
  });

  // residual panel (extra room above/below for the rotated D [%] title)
  const xLabels = (i === 5 || i === 6);
  const padT = 26;
  const padB = xLabels ? 45 : 26;
  const rc = makeCanvas(cLeft, T + RES_OFF - padT, cWidth, padT + RES_H + padB);
  const rds = [
    lineDs([[xRange[0], 0], [xRange[1], 0]], '#000', 2, [], 4, false),
    lineDs([[xRange[0], residBand[0]], [xRange[1], residBand[0]]], '#0000ff', 2, [7, 4], 3, false),
    lineDs([[xRange[0], residBand[1]], [xRange[1], residBand[1]]], '#0000ff', 2, [7, 4], 3, false),
    lineDs(resAll[i], '#ff0000', 3.5, [], 1, false)
  ];
  new Chart(rc, {
    type: 'line',
    data: {datasets: rds},
    options: baseOptions({left: padL, right: padR, top: padT, bottom: padB},
      {type: 'linear', min: residRange[0], max: residRange[1]},
      {log: false, side: side, xLabels: xLabels}),
    plugins: [framePlugin]
  });
});
</script>
</body>
</html>
